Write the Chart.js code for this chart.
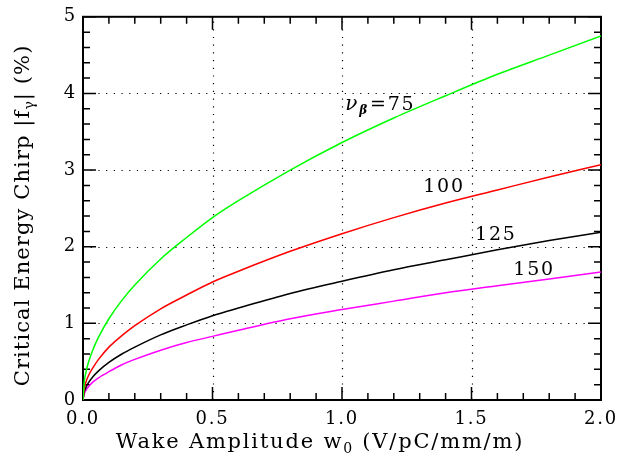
<!DOCTYPE html>
<html>
<head>
<meta charset="utf-8">
<script src="https://cdn.jsdelivr.net/npm/chart.js@4.4.0/dist/chart.umd.min.js"></script>
<style>
html, body { margin: 0; padding: 0; background: #fff; }
</style>
</head>
<body>
<canvas id="myChart" width="632" height="462"></canvas>
<script>
// wake amplitude w0 (V/pC/mm/m)
const wake = [0, 0.005, 0.01, 0.02, 0.04, 0.06, 0.1, 0.15, 0.2, 0.3, 0.4, 0.5, 0.6, 0.8, 1.0, 1.2, 1.4, 1.6, 1.8, 2.0]
// critical energy chirp (%) for each nu_beta
const chirp75  = [0, 0.24, 0.34, 0.48, 0.67, 0.82, 1.06, 1.30, 1.50, 1.84, 2.12, 2.38, 2.60, 3.00, 3.36, 3.68, 3.97, 4.25, 4.50, 4.75]
const chirp100 = [0, 0.15, 0.22, 0.31, 0.43, 0.53, 0.69, 0.84, 0.97, 1.19, 1.37, 1.54, 1.68, 1.94, 2.17, 2.38, 2.57, 2.74, 2.91, 3.07]
const chirp125 = [0, 0.11, 0.155, 0.22, 0.31, 0.38, 0.49, 0.60, 0.69, 0.85, 0.98, 1.10, 1.20, 1.39, 1.55, 1.70, 1.83, 1.96, 2.08, 2.19]
const chirp150 = [0, 0.08, 0.12, 0.17, 0.24, 0.29, 0.37, 0.46, 0.53, 0.65, 0.75, 0.83, 0.91, 1.06, 1.18, 1.29, 1.40, 1.49, 1.58, 1.67]

// curve labels
const curveLabels = [
    {x: 1.146, y: 3.85, nu: true, text: '75'},
    {x: 1.394, y: 2.78, text: '100'},
    {x: 1.594, y: 2.15, text: '125'},
    {x: 1.742, y: 1.70, text: '150'}
]

// axis titles, split where a subscript goes
const xTitle = [{t: 'Wake Amplitude w'}, {t: '0', sub: true}, {t: ' (V/pC/mm/m)'}]
const yTitle = [{t: 'Critical Energy Chirp |f'}, {t: 'γ', sub: true}, {t: '| (%)'}]

const FONT = '"DejaVu Serif", "Liberation Serif", serif'

function pts(ys) {
    return wake.map((w, i) => ({x: w, y: ys[i]}))
}

// draws text pieces centred on (cx, cy), subscripts smaller and lower
function drawRich(ctx, segs, cx, cy, size) {
    const subSize = Math.round(size * 0.65)
    let total = 0
    segs.forEach(s => {
        ctx.font = (s.sub ? subSize : size) + 'px ' + FONT
        s.w = ctx.measureText(s.t).width
        total += s.w
    })
    let x = cx - total / 2
    ctx.textAlign = 'left'
    ctx.textBaseline = 'middle'
    segs.forEach(s => {
        ctx.font = (s.sub ? subSize : size) + 'px ' + FONT
        ctx.fillText(s.t, x, s.sub ? cy + size * 0.32 : cy)
        x += s.w
    })
}

// frame, inward ticks and dotted grid (like the old plotting packages)
const framePlugin = {
    id: 'frame',
    beforeDraw(chart) {
        // wide spaced lettering like the original
        chart.ctx.letterSpacing = '1.8px'
    },
    beforeDatasetsDraw(chart) {
        const ctx = chart.ctx
        const a = chart.chartArea
        const xs = chart.scales.x
        const ys = chart.scales.y
        ctx.save()
        // dotted grid at major ticks
        ctx.strokeStyle = '#000'
        ctx.lineWidth = 1.2
        ctx.setLineDash([1.2, 6.5])
        for (let v = 0.5; v < 2.0; v += 0.5) {
            const px = Math.round(xs.getPixelForValue(v)) + 0.5
            ctx.beginPath(); ctx.moveTo(px, a.bottom); ctx.lineTo(px, a.top); ctx.stroke()
        }
        for (let v = 1; v < 5; v++) {
            const py = Math.round(ys.getPixelForValue(v)) + 0.5
            ctx.beginPath(); ctx.moveTo(a.left, py); ctx.lineTo(a.right, py); ctx.stroke()
        }
        ctx.setLineDash([])
        ctx.lineWidth = 1.5
        // x ticks, bottom and top
        for (let i = 0; i <= 20; i++) {
            const px = xs.getPixelForValue(i / 10)
            const len = i % 5 === 0 ? 13 : 7
            ctx.beginPath()
            ctx.moveTo(px, a.bottom); ctx.lineTo(px, a.bottom - len)
            ctx.moveTo(px, a.top); ctx.lineTo(px, a.top + len)
            ctx.stroke()
        }
        // y ticks, left and right
        for (let i = 0; i <= 25; i++) {
            const py = ys.getPixelForValue(i / 5)
            const len = i % 5 === 0 ? 13 : 7
            ctx.beginPath()
            ctx.moveTo(a.left, py); ctx.lineTo(a.left + len, py)
            ctx.moveTo(a.right, py); ctx.lineTo(a.right - len, py)
            ctx.stroke()
        }
        ctx.lineWidth = 2
        ctx.strokeRect(a.left, a.top, a.right - a.left, a.bottom - a.top)
        ctx.restore()
    },
    afterDatasetsDraw(chart) {
        const ctx = chart.ctx
        const a = chart.chartArea
        const xs = chart.scales.x
        const ys = chart.scales.y
        ctx.save()
        ctx.fillStyle = '#000'
        ctx.textBaseline = 'middle'
        curveLabels.forEach(l => {
            const px = xs.getPixelForValue(l.x)
            const py = ys.getPixelForValue(l.y)
            if (l.nu) {
                ctx.font = 'italic 20px ' + FONT
                const w1 = ctx.measureText('ν').width
                ctx.font = 'bold italic 12px ' + FONT
                const w2 = ctx.measureText('β').width
                ctx.font = '19px ' + FONT
                const w3 = ctx.measureText('=' + l.text).width
                let x0 = px - (w1 + w2 + w3) / 2
                ctx.textAlign = 'left'
                ctx.font = 'italic 20px ' + FONT
                ctx.fillText('ν', x0, py)
                ctx.font = 'bold italic 12px ' + FONT
                ctx.fillText('β', x0 + w1, py + 6)
                ctx.font = '19px ' + FONT
                ctx.fillText('=' + l.text, x0 + w1 + w2 + 1, py)
            } else {
                ctx.font = '19px ' + FONT
                ctx.textAlign = 'center'
                ctx.fillText(l.text, px, py)
            }
        })

        // axis titles
        ctx.letterSpacing = '1.8px'
        drawRich(ctx, xTitle, (a.left + a.right) / 2 - 22, a.bottom + 43, 21)
        ctx.letterSpacing = '1.1px'
        ctx.translate(24, (a.top + a.bottom) / 2 + 7)
        ctx.rotate(-Math.PI / 2)
        drawRich(ctx, yTitle, 0, 0, 21)
        ctx.restore()
    }
}

const ctx = document.getElementById('myChart').getContext('2d')
var chart = new Chart(ctx, {
    type: 'scatter',
    data: {
        datasets: [
            {label: '75', data: pts(chirp75), borderColor: '#00ff00'},
            {label: '100', data: pts(chirp100), borderColor: '#ff0000'},
            {label: '125', data: pts(chirp125), borderColor: '#000000'},
            {label: '150', data: pts(chirp150), borderColor: '#ff00ff'}
        ]
    },
    options: {
        responsive: false,
        animation: false,
        showLine: true,
        layout: {padding: {top: 10, right: 31, left: 0, bottom: 0}},
        elements: {
            point: {radius: 0},
            line: {borderWidth: 1.5, cubicInterpolationMode: 'monotone', fill: false}
        },
        plugins: {
            legend: {display: false},
            tooltip: {enabled: false}
        },
        scales: {
            x: {
                type: 'linear',
                min: 0, max: 2,
                grid: {display: false, drawTicks: false},
                border: {display: false},
                ticks: {
                    stepSize: 0.5,
                    padding: 9,
                    color: '#000',
                    font: {family: FONT, size: 18},
                    callback: v => v.toFixed(1)
                },
                title: {display: false},
                afterFit: s => { s.height = 62 }
            },
            y: {
                min: 0, max: 5,
                grid: {display: false, drawTicks: false},
                border: {display: false},
                ticks: {
                    stepSize: 1,
                    padding: 6,
                    color: '#000',
                    font: {family: FONT, size: 18}
                },
                title: {display: false},
                afterFit: s => { s.width = 83 }
            }
        }
    },
    plugins: [framePlugin]
})
</script>
</body>
</html>
